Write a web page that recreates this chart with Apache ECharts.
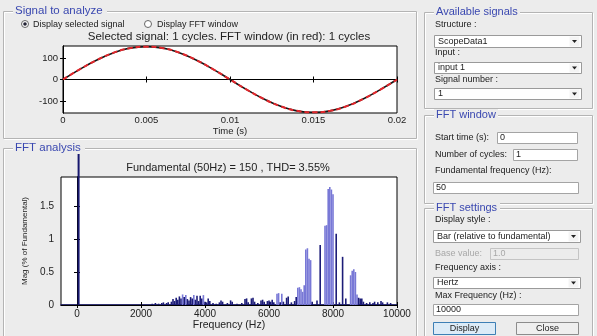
<!DOCTYPE html>
<html><head><meta charset="utf-8">
<script src="https://cdn.jsdelivr.net/npm/echarts@6/dist/echarts.min.js"></script>
<style>html,body{margin:0;padding:0;background:#ececec;}#c{width:597px;height:336px;}</style>
</head><body><div id="c"></div>
<script>
// ---- data ----
const timeS = [0,0.001,0.002,0.003,0.004,0.005,0.006,0.007,0.008,0.009,0.01,0.011,0.012,0.013,0.014,0.015,0.016,0.017,0.018,0.019,0.02];
const signalA = [0,47,89,123,145,152,145,123,89,47,0,-47,-89,-123,-145,-152,-145,-123,-89,-47,0];
const timeTicks = [0,0.005,0.01,0.015,0.02];
const ampTicks = [-100,0,100];
const fundamental = [[50,100]];
const harmonicHz = [2350,2450,2550,2650,2700,2800,2850,2950,
  3000,3050,3100,3150,3200,3250,3300,3350,3400,3450,3500,3550,3600,3650,3700,3750,3800,3850,3900,3950,
  4000,4050,4100,4150,4250,4350,4450,4500,4550,4700,4800,4850,5000,5150,5250,5300,5350,5450,5500,5550,
  5650,5750,5800,5850,5950,6000,6050,6100,6150,6250,6300,6350,6400,6450,6550,6600,6700,6800,
  6850,6900,6950,7000,7050,7100,7150,7200,7250,7300,7350,7500,7600,7750,7800,7850,7900,7950,8000,
  8100,8200,8300,8400,8550,8600,8650,8700,8750,8800,8850,8900,8950,9050,9150,9250,9300,9400,9500,9550,9700,9800];
const harmonicMag = [0.02,0.03,0.02,0.03,0.04,0.03,0.04,0.05,
  0.09,0.06,0.11,0.08,0.13,0.10,0.16,0.12,0.15,0.09,0.07,0.12,0.10,0.15,0.08,0.14,0.06,0.14,0.10,0.15,
  0.05,0.04,0.10,0.06,0.03,0.02,0.04,0.07,0.05,0.03,0.07,0.05,0.02,0.03,0.09,0.10,0.04,0.10,0.11,0.05,
  0.03,0.07,0.08,0.05,0.06,0.07,0.05,0.08,0.04,0.17,0.18,0.04,0.17,0.05,0.11,0.13,0.04,0.06,
  0.12,0.26,0.27,0.24,0.20,0.30,0.84,0.86,0.70,0.68,0.05,0.07,0.91,1.20,1.21,1.76,1.79,1.75,1.68,
  1.08,0.04,0.73,0.10,0.45,0.52,0.54,0.50,0.16,0.11,0.10,0.10,0.05,0.03,0.04,0.03,0.05,0.04,0.06,0.04,0.04,0.03];
const freqTicks = [0,2000,4000,6000,8000,10000];
const magTicks = [0,0.5,1,1.5];

// ---- UI chrome ----
const FONT = '"Liberation Sans", Arial, sans-serif';
const BG = '#ececec';
const G = [];
function txt(x,y,s,o){G.push({type:'text',x:x,y:y,z:10,style:Object.assign({text:s,fill:'#222',font:'9px '+FONT,textAlign:'left',align:'left',textVerticalAlign:'middle',verticalAlign:'middle'},o||{})});}
function rect(x,y,w,h,fill,stroke,z){G.push({type:'rect',z:z||5,shape:{x:x,y:y,width:w,height:h},style:{fill:fill,stroke:stroke||null,lineWidth:1}});}
function groupBox(x,y,w,h,title,tw,fs){
  rect(x+1.5,y+1.5,w,h,'none','#ffffff',3);
  rect(x+0.5,y+0.5,w,h,'none','#b4b4b4',4);
  rect(x+10,y-6,tw,12,BG,null,6);
  txt(x+12,y,title,{fill:'#3a48b0',font:(fs||11)+'px '+FONT});
}
function dropdown(x,y,w,h,s){
  rect(x+0.5,y+0.5,w,h,'#fff','#9a9a9a',7);
  rect(x+w-11.5,y+1.5,10,h-2,'#f4f4f4',null,8);
  G.push({type:'polygon',z:9,shape:{points:[[x+w-9,y+h/2-1],[x+w-4,y+h/2-1],[x+w-6.5,y+h/2+2]]},style:{fill:'#222'}});
  txt(x+4,y+h/2+0.5,s);
}
function field(x,y,w,h,s,dis){
  rect(x+0.5,y+0.5,w,h,dis?BG:'#fff',dis?'#c4c4c4':'#a4a4a4',7);
  txt(x+3,y+h/2+0.5,s,dis?{fill:'#a8a8a8'}:{});
}
// left panels
groupBox(3,11,413,127,'Signal to analyze',94,11.5);
groupBox(3,148,413,190,'FFT analysis',72,11.5);
G.push({type:'circle',z:9,shape:{cx:25,cy:24,r:3.5},style:{fill:'#fff',stroke:'#666'}});
G.push({type:'circle',z:10,shape:{cx:25,cy:24,r:1.8},style:{fill:'#223'}});
txt(33,24.5,'Display selected signal');
G.push({type:'circle',z:9,shape:{cx:148,cy:24,r:3.5},style:{fill:'#fff',stroke:'#666'}});
txt(157,24.5,'Display FFT window');
txt(229,37,'Selected signal: 1 cycles. FFT window (in red): 1 cycles',{font:'11.5px '+FONT,textAlign:'center',align:'center'});
txt(228,168,'Fundamental (50Hz) = 150 , THD= 3.55%',{font:'11px '+FONT,textAlign:'center',align:'center'});
// right panels
groupBox(424,12,168,96,'Available signals',86);
txt(435,25,'Structure :');
dropdown(434,35,147,12,'ScopeData1');
txt(435,53,'Input :');
dropdown(434,62,147,11,'input 1');
txt(435,80,'Signal number :');
dropdown(434,88,147,11,'1');
groupBox(424,115,168,88,'FFT window',64);
txt(435,137.5,'Start time (s):');
field(497,132,80,11,'0');
txt(435,154.5,'Number of cycles:');
field(513,149,64,11,'1');
txt(435,171,'Fundamental frequency (Hz):');
field(433,182,145,11,'50');
groupBox(424,208,168,140,'FFT settings',66);
txt(435,220,'Display style :');
dropdown(433,230,147,12,'Bar (relative to fundamental)');
txt(435,253.5,'Base value:',{fill:'#a8a8a8'});
field(490,248,88,11,'1.0',true);
txt(435,268,'Frequency axis :');
dropdown(433,277,147,11,'Hertz');
txt(435,296,'Max Frequency (Hz) :');
field(433,304,145,11,'10000');
rect(433.5,322.5,62,12,'#dcebf7','#3d7fb5',7);
txt(464.5,329,'Display',{textAlign:'center',align:'center'});
rect(516.5,322.5,62,12,'#efefef','#8c8c8c',7);
txt(547.5,329,'Close',{textAlign:'center',align:'center'});

// ---- chart ----
const magByHz = new Map(harmonicHz.map((f,i)=>[f,harmonicMag[i]]));
const axisTxt = {fontSize:9.5,color:'#222',fontFamily:FONT};
const fftTxt = {fontSize:10,color:'#222',fontFamily:FONT};
const tickIn = (vals)=>Object.assign({inside:true,length:3,lineStyle:{color:'#000'}}, vals?{customValues:vals}:{});
const boxLine = {show:true,lineStyle:{color:'#000',width:1}};
const FMIN=-500, FMAX=10000, MMAX=1.94;
const plain = (v)=>String(+(+v).toFixed(4));

const option = {
  animation:false,
  backgroundColor:BG,
  graphic:{elements:G},
  grid:[
    {left:63,top:46,width:334,height:67,show:true,backgroundColor:'#fff',borderColor:'#000',borderWidth:1,outerBoundsMode:'none'},
    {left:61,top:177,width:336,height:128,show:true,backgroundColor:'#fff',borderColor:'#000',borderWidth:1,outerBoundsMode:'none'},
    {left:61,top:152,width:336,height:153,show:false,outerBoundsMode:'none'}
  ],
  xAxis:[
    {type:'value',gridIndex:0,min:0,max:0.02,interval:0.005,axisLine:boxLine,axisTick:tickIn(),splitLine:{show:false},
     axisLabel:Object.assign({margin:2,formatter:plain},axisTxt),
     name:'Time (s)',nameLocation:'middle',nameGap:9,nameTextStyle:{fontSize:9.5,color:'#222',fontFamily:FONT}},
    {type:'value',gridIndex:0,position:'top',min:0,max:0.02,interval:0.005,axisLine:boxLine,axisTick:tickIn(),axisLabel:{show:false},splitLine:{show:false}},
    {type:'value',gridIndex:1,min:FMIN,max:FMAX,axisLine:{show:true,lineStyle:{color:'#1a1a6e',width:1.5}},axisTick:tickIn(freqTicks),splitLine:{show:false},
     axisLabel:Object.assign({margin:4,customValues:freqTicks,formatter:plain},fftTxt),
     name:'Frequency (Hz)',nameLocation:'middle',nameGap:13,nameTextStyle:{fontSize:10.5,color:'#222',fontFamily:FONT}},
    {type:'value',gridIndex:1,position:'top',min:FMIN,max:FMAX,axisLine:boxLine,axisTick:tickIn(freqTicks),axisLabel:{show:false},splitLine:{show:false}},
    {type:'value',gridIndex:2,min:FMIN,max:FMAX,show:false}
  ],
  yAxis:[
    {type:'value',gridIndex:0,min:-155,max:155,axisLine:boxLine,axisTick:tickIn(ampTicks),splitLine:{show:false},
     axisLabel:Object.assign({margin:5,customValues:ampTicks,formatter:plain},axisTxt)},
    {type:'value',gridIndex:0,position:'right',min:-155,max:155,axisLine:boxLine,axisTick:tickIn(ampTicks),axisLabel:{show:false},splitLine:{show:false}},
    {type:'value',gridIndex:1,min:0,max:MMAX,axisLine:boxLine,axisTick:tickIn(magTicks),splitLine:{show:false},
     axisLabel:Object.assign({margin:7,customValues:magTicks,formatter:plain},fftTxt),
     name:'Mag (% of Fundamental)',nameLocation:'middle',nameRotate:90,nameGap:28,nameTextStyle:{fontSize:8,color:'#222',fontFamily:FONT}},
    {type:'value',gridIndex:1,position:'right',min:0,max:MMAX,axisLine:boxLine,axisTick:tickIn(magTicks),axisLabel:{show:false},splitLine:{show:false}},
    {type:'value',gridIndex:2,min:0,max:MMAX*153/128,show:false}
  ],
  series:[
    {type:'line',name:'Selected signal',xAxisIndex:0,yAxisIndex:0,smooth:true,symbol:'none',
     data:timeS.map((t,i)=>[t,signalA[i]]),lineStyle:{color:'#151515',width:1.6}},
    {type:'line',name:'FFT window',xAxisIndex:0,yAxisIndex:0,smooth:true,symbol:'none',
     data:timeS.map((t,i)=>[t,signalA[i]]),lineStyle:{color:'#e3262b',width:2,type:[5,3]}},
    {type:'bar',name:'Harmonics',xAxisIndex:2,yAxisIndex:2,barWidth:1.6,
     data:harmonicHz.map((f,i)=>[f,harmonicMag[i]]),
     itemStyle:{color:(p)=>{const f=p.value[0],m=p.value[1];
       const iso=!magByHz.has(f-50)&&!magByHz.has(f+50);
       return (iso||m<0.15)?'#1c1c78':'#7878d6';}}},
    {type:'bar',name:'Fundamental',xAxisIndex:4,yAxisIndex:4,barWidth:2,clip:true,
     data:fundamental,itemStyle:{color:'#16166e'}}
  ]
};
const chart = echarts.init(document.getElementById('c'),null,{renderer:'canvas'});
chart.setOption(option);
</script></body></html>
